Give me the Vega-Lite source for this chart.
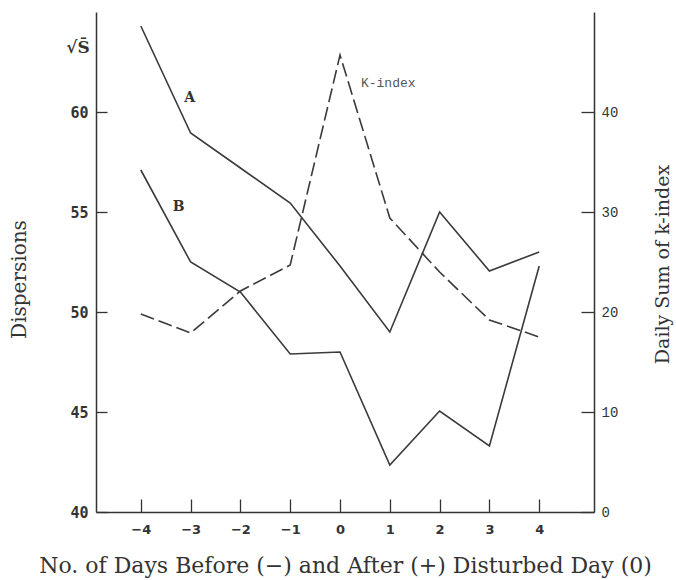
{
  "$schema": "https://vega.github.io/schema/vega-lite/v6.json",
  "width": 498,
  "height": 500,
  "autosize": {"type": "none"},
  "padding": {"left": 96, "top": 12, "right": 82, "bottom": 68},
  "background": "white",
  "config": {
    "view": {"stroke": null},
    "axis": {
      "grid": false,
      "domainColor": "#333",
      "domainWidth": 1.5,
      "tickColor": "#333",
      "tickWidth": 1.3,
      "labelColor": "#333",
      "titleColor": "#333",
      "titleFont": "DejaVu Serif",
      "titleFontWeight": "normal",
      "titleFontSize": 20
    }
  },
  "datasets": {
    "lines": [
      {"day": -4, "series": "A", "value": 64.3},
      {"day": -3, "series": "A", "value": 58.95},
      {"day": -2, "series": "A", "value": 57.2},
      {"day": -1, "series": "A", "value": 55.45},
      {"day": 0, "series": "A", "value": 52.3},
      {"day": 1, "series": "A", "value": 49.0},
      {"day": 2, "series": "A", "value": 55.0},
      {"day": 3, "series": "A", "value": 52.05},
      {"day": 4, "series": "A", "value": 53.0},
      {"day": -4, "series": "B", "value": 57.1},
      {"day": -3, "series": "B", "value": 52.5},
      {"day": -2, "series": "B", "value": 51.0},
      {"day": -1, "series": "B", "value": 47.9},
      {"day": 0, "series": "B", "value": 48.0},
      {"day": 1, "series": "B", "value": 42.35},
      {"day": 2, "series": "B", "value": 45.05},
      {"day": 3, "series": "B", "value": 43.3},
      {"day": 4, "series": "B", "value": 52.3}
    ],
    "kindex": [
      {"day": -4, "k": 19.8},
      {"day": -3, "k": 17.9},
      {"day": -2, "k": 22.1},
      {"day": -1, "k": 24.7},
      {"day": 0, "k": 45.7},
      {"day": 1, "k": 29.4},
      {"day": 2, "k": 24.0},
      {"day": 3, "k": 19.2},
      {"day": 4, "k": 17.5}
    ],
    "leftLabels": [
      {"day": -3.02, "value": 60.7, "label": "A", "size": 14},
      {"day": -3.24, "value": 55.25, "label": "B", "size": 14},
      {"day": -5.26, "value": 63.2, "label": "√S̄", "size": 17}
    ],
    "rightLabels": [
      {"day": 0.42, "k": 42.9, "label": "K-index"}
    ]
  },
  "layer": [
    {
      "layer": [
        {
          "data": {"name": "lines"},
          "mark": {"type": "line", "color": "#3a3a3a", "strokeWidth": 1.6},
          "encoding": {
            "x": {
              "field": "day", "type": "quantitative",
              "scale": {"domain": [-4.9, 5.1], "nice": false, "zero": false},
              "axis": {
                "values": [-4, -3, -2, -1, 0, 1, 2, 3, 4],
                "tickSize": -13,
                "labelPadding": 24,
                "labelFont": "DejaVu Sans",
                "labelFontWeight": "bold",
                "labelFontSize": 13,
                "title": "No. of Days Before (−) and After (+) Disturbed Day (0)",
                "titleFontSize": 22,
                "titlePadding": 19
              }
            },
            "y": {
              "field": "value", "type": "quantitative",
              "scale": {"domain": [40, 65], "nice": false, "zero": false},
              "axis": {
                "orient": "left",
                "values": [40, 45, 50, 55, 60],
                "tickSize": -11,
                "labelPadding": 19,
                "labelFont": "DejaVu Sans Mono",
                "labelFontWeight": "bold",
                "labelFontSize": 15,
                "title": "Dispersions",
                "titleFontSize": 20,
                "titleX": -67,
                "titleY": 267
              }
            },
            "detail": {"field": "series"}
          }
        },
        {
          "data": {"name": "leftLabels"},
          "mark": {"type": "text", "font": "DejaVu Serif", "fontWeight": "bold", "color": "#333"},
          "encoding": {
            "x": {"field": "day", "type": "quantitative"},
            "y": {"field": "value", "type": "quantitative"},
            "text": {"field": "label"},
            "size": {"field": "size", "type": "quantitative", "scale": null}
          }
        }
      ]
    },
    {
      "layer": [
        {
          "data": {"name": "kindex"},
          "mark": {"type": "line", "color": "#3a3a3a", "strokeWidth": 1.6, "strokeDash": [14, 5]},
          "encoding": {
            "x": {"field": "day", "type": "quantitative"},
            "y": {
              "field": "k", "type": "quantitative",
              "scale": {"domain": [0, 50], "nice": false},
              "axis": {
                "orient": "right",
                "values": [0, 10, 20, 30, 40],
                "tickSize": -13,
                "labelPadding": 20,
                "labelFont": "Liberation Mono",
                "labelFontSize": 14,
                "title": "Daily Sum of k-index",
                "titleFontSize": 19,
                "titleAngle": 270,
                "titleX": 78,
                "titleY": 252
              }
            }
          }
        },
        {
          "data": {"name": "rightLabels"},
          "mark": {"type": "text", "font": "Liberation Mono", "fontSize": 13, "color": "#555", "align": "left"},
          "encoding": {
            "x": {"field": "day", "type": "quantitative"},
            "y": {"field": "k", "type": "quantitative"},
            "text": {"field": "label"}
          }
        }
      ]
    }
  ],
  "resolve": {"scale": {"y": "independent"}, "axis": {"y": "independent"}}
}
